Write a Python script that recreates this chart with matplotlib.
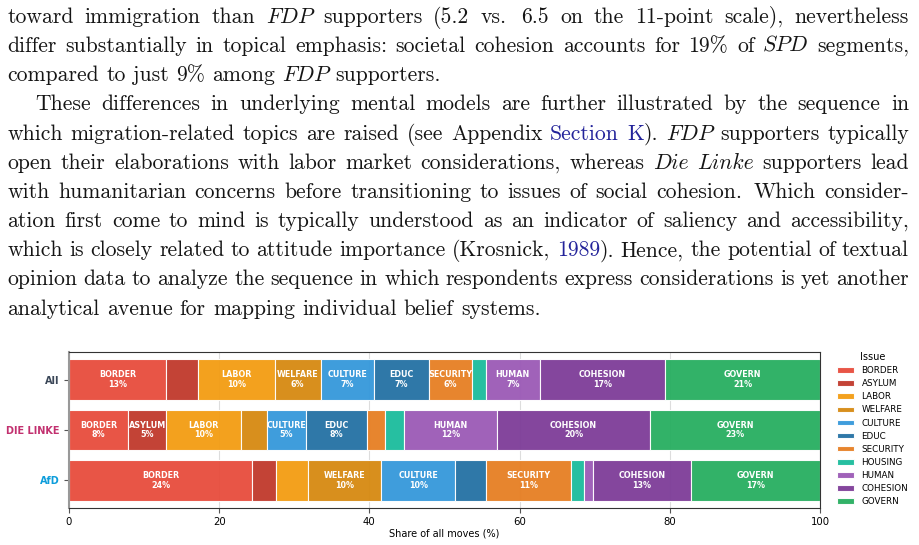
import os
import re

import matplotlib

matplotlib.use("Agg")
import matplotlib.pyplot as plt
import numpy as np
from matplotlib.font_manager import FontProperties

# ---- chart data ----
groups = ["All", "DIE LINKE", "AfD"]
group_colors = ["#3b4758", "#c2306f", "#0d9ddb"]
issues = ["BORDER", "ASYLUM", "LABOR", "WELFARE", "CULTURE", "EDUC",
          "SECURITY", "HOUSING", "HUMAN", "COHESION", "GOVERN"]
issue_colors = ["#e74c3c", "#c0392b", "#f39c12", "#d68910", "#3498db", "#2471a3",
                "#e67e22", "#1abc9c", "#9b59b6", "#7d3c98", "#27ae60"]
share_all = [12.9, 4.3, 10.2, 6.1, 7.1, 7.3, 5.7, 1.9, 7.2, 16.7, 20.6]
share_linke = [7.9, 5.0, 10.0, 3.4, 5.2, 8.2, 2.4, 2.5, 12.4, 20.4, 22.6]
share_afd = [24.4, 3.1, 4.3, 9.8, 9.8, 4.1, 11.3, 1.8, 1.2, 13.0, 17.2]

# ---- paper text above the figure (* = italic, # = link colour) ----
text_lines = [
    "toward immigration than *FDP* supporters (5.2 vs.  6.5 on the 11-point scale), nevertheless",
    "differ substantially in topical emphasis: societal cohesion accounts for 19% of *SPD* segments,",
    "compared to just 9% among *FDP* supporters.",
    "These differences in underlying mental models are further illustrated by the sequence in",
    "which migration-related topics are raised (see Appendix #Section K#). *FDP* supporters typically",
    "open their elaborations with labor market considerations, whereas *Die Linke* supporters lead",
    "with humanitarian concerns before transitioning to issues of social cohesion.  Which consider-",
    "ation first come to mind is typically understood as an indicator of saliency and accessibility,",
    "which is closely related to attitude importance (Krosnick, #1989#). Hence, the potential of textual",
    "opinion data to analyze the sequence in which respondents express considerations is yet another",
    "analytical avenue for mapping individual belief systems.",
]
last_lines = {2, 10}
indent_lines = {3}

W, H = 919, 545
fig = plt.figure(figsize=(W / 100, H / 100), dpi=100)
renderer = fig.canvas.get_renderer()

TEXT_COLOR = "#151515"
LINK_COLOR = "#23239a"
ttf_dir = os.path.join(matplotlib.get_data_path(), "fonts", "ttf")


def font_for(name, fallback_family, fallback_style):
    path = os.path.join(ttf_dir, name)
    if os.path.exists(path):
        return lambda size: FontProperties(fname=path, size=size)
    return lambda size: FontProperties(family=fallback_family, style=fallback_style, size=size)


roman_font = font_for("cmr10.ttf", "DejaVu Serif", "normal")
italic_font = font_for("cmmi10.ttf", "DejaVu Serif", "italic")


def parse_line(line):
    # returns words (each a list of (text, italic, link)) and gap weights
    words, gaps = [], []
    italic = link = False
    for p in re.split(r"( +)", line):
        if p.startswith(" "):
            gaps.append(1.0 if len(p) == 1 else 1.4)
            continue
        pieces, buf = [], ""
        for ch in p:
            if ch in "*#":
                if buf:
                    pieces.append((buf, italic, link))
                    buf = ""
                if ch == "*":
                    italic = not italic
                else:
                    link = not link
            else:
                buf += ch
        if buf:
            pieces.append((buf, italic, link))
        words.append(pieces)
    return words, gaps


def make_pieces(words, size):
    objs = []
    for pieces in words:
        wobjs = []
        for txt, it, lk in pieces:
            fp = italic_font(size) if it else roman_font(size)
            t = fig.text(0, 0, txt, fontproperties=fp,
                         color=LINK_COLOR if lk else TEXT_COLOR, va="baseline", ha="left")
            w = t.get_window_extent(renderer).width
            wobjs.append((t, w))
        objs.append(wobjs)
    return objs


# calibrate font size on the final (unjustified) line
ref_words, ref_gaps = parse_line(text_lines[-1])
probe = make_pieces(ref_words, 10)
probe_w = sum(w for wo in probe for _, w in wo) + sum(ref_gaps) * 0.333 * 10 * 100 / 72
for wo in probe:
    for t, _ in wo:
        t.remove()
fs = 10 * (541 - 7.3) / probe_w

x_left, x_right = 7.3, 909.0
for li, line in enumerate(text_lines):
    words, gaps = parse_line(line)
    objs = make_pieces(words, fs)
    x0 = x_left + (28 if li in indent_lines else 0)
    total = sum(w for wo in objs for _, w in wo)
    if li in last_lines or not gaps:
        space = 0.333 * fs * 100 / 72
    else:
        space = (x_right - x0 - total) / sum(gaps)
    baseline = 22.7 + 29.2 * li
    x = x0
    for k, wo in enumerate(objs):
        for t, w in wo:
            t.set_position((x / W, 1 - baseline / H))
            x += w
        if k < len(gaps):
            x += space * gaps[k]

# ---- stacked bar chart ----
ax = fig.add_axes([69 / W, 1 - 507.7 / H, (820 - 69) / W, (507.7 - 352.3) / H])
data = np.array([share_all, share_linke, share_afd])
y = np.arange(len(groups))
left = np.zeros(len(groups))
for j, issue in enumerate(issues):
    vals = data[:, j]
    ax.barh(y, vals, left=left, height=0.8, color=issue_colors[j], edgecolor="white",
            linewidth=0.8, label=issue, alpha=0.95)
    for i, v in enumerate(vals):
        if v >= 4.5:
            ax.text(left[i] + v / 2, y[i], f"{issue}\n{v:.0f}%", ha="center", va="center",
                    color="white", fontsize=5.8, fontweight="bold", linespacing=1.1)
    left += vals

ax.set_xlim(0, 100)
ax.set_yticks(y)
ax.set_yticklabels(groups, fontsize=7, fontweight="bold")
for lab, c in zip(ax.get_yticklabels(), group_colors):
    lab.set_color(c)
ax.invert_yaxis()
ax.set_xlabel("Share of all moves (%)", fontsize=7, labelpad=1.5)
ax.tick_params(axis="x", labelsize=7.3, length=3.5, pad=3, color="#555555")
ax.tick_params(axis="y", length=3.5, color="#555555")
ax.grid(axis="x", color="#dddddd", linewidth=0.8)
ax.set_axisbelow(True)
for side in ["top", "right", "bottom"]:
    ax.spines[side].set_color("#333333")
    ax.spines[side].set_linewidth(0.8)
ax.spines["left"].set_color("#999999")
ax.spines["left"].set_linewidth(1.5)

handles, labels = ax.get_legend_handles_labels()
fig.legend(handles, labels, loc="upper left", bbox_to_anchor=(836.5 / W, 1 - 352 / H),
           frameon=False, fontsize=6.3, title="Issue", title_fontsize=7,
           handlelength=1.95, handleheight=0.6, handletextpad=0.9, labelspacing=0.47,
           borderpad=0, borderaxespad=0)

fig.savefig("out.png", dpi=100)
